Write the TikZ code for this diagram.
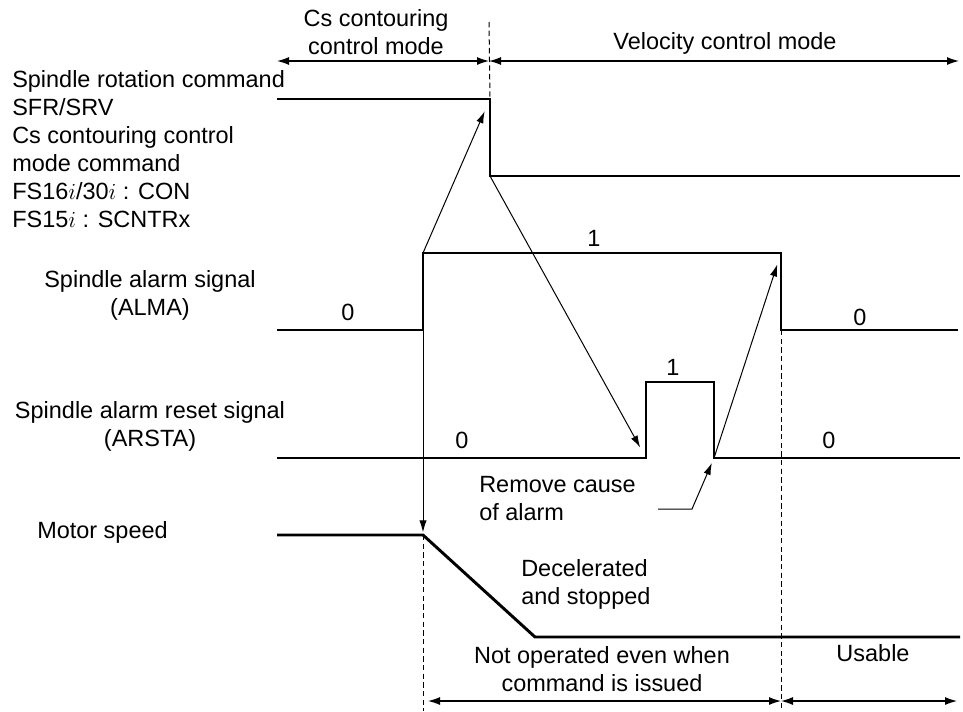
\documentclass[tikz,border=0pt]{standalone}
\usepackage{fontspec}
\setmainfont{Liberation Sans}
\usetikzlibrary{arrows.meta,positioning}
\definecolor{ink}{HTML}{000000}
\tikzset{
  sig/.style={line width=2.2pt, draw=ink, line join=miter},
  ar/.style={-{Latex[length=9pt,width=5.5pt]}, line width=0.75pt, draw=ink},
  spanar/.style={{Latex[length=9pt,width=6pt]}-{Latex[length=9pt,width=6pt]}, line width=0.9pt, draw=ink},
  guide/.style={dash pattern=on 4pt off 2.5pt, line width=0.75pt, draw=ink},
  txt/.style={font=\fontsize{17.6}{21}\selectfont, inner sep=0pt, align=center},
  lvl/.style={txt}
}

\begin{document}
\begin{tikzpicture}[x=0.75pt,y=-0.75pt]
  \useasboundingbox (0,0) rectangle (963,711);

  % signal corners
  \coordinate (sfrA) at (277,99);  \coordinate (sfrB) at (490,99);
  \coordinate (sfrC) at (490,176); \coordinate (sfrD) at (960,176);
  \coordinate (alA) at (277,330); \coordinate (alB) at (423,330);
  \coordinate (alC) at (423,253); \coordinate (alD) at (781,253);
  \coordinate (alE) at (781,330); \coordinate (alF) at (958,330);
  \coordinate (arA) at (277,458); \coordinate (arB) at (646,458);
  \coordinate (arC) at (646,382); \coordinate (arD) at (714,382);
  \coordinate (arE) at (714,458); \coordinate (arF) at (960,458);
  \coordinate (msA) at (277,535); \coordinate (msB) at (423,535);
  \coordinate (msC) at (535,637); \coordinate (msD) at (960,637);

  % mode spans
  \coordinate (mL) at (277,61); \coordinate (mM) at (489,61); \coordinate (mR) at (959,61);
  \coordinate (bL) at (428,701); \coordinate (bM) at (781,701); \coordinate (bR) at (957,701);
  \coordinate (gTop) at (489,22);
  \coordinate (gL) at (423,711); \coordinate (gR) at (781,711);
  \coordinate (rc1) at (658,509); \coordinate (rc2) at (692,509);

  \node[txt] (cslbl) at (376,32) {Cs contouring\\control mode};
  \node[txt] (vellbl) at (725,43) {Velocity control mode};
  \node[txt, align=left, anchor=north west] (sfrlbl) at (12,70)
      {Spindle rotation command\\SFR/SRV\\Cs contouring control\\mode command\\FS16$i$/30$i$ : CON\\FS15$i$ : SCNTRx};
  \node[txt] (almlbl) at (150,295) {Spindle alarm signal\\(ALMA)};
  \node[txt] (arslbl) at (150,426) {Spindle alarm reset signal\\(ARSTA)};
  \node[txt, anchor=west] (mslbl) at (37,532) {Motor speed};

  \node[lvl] (al0) at (348,312) {0};
  \node[lvl] (al1) at (594,238) {1};
  \node[lvl] (al2) at (860,317) {0};
  \node[lvl] (ar0) at (462,440) {0};
  \node[lvl] (ar1) at (673,367) {1};
  \node[lvl] (ar2) at (829,440) {0};

  \node[txt, align=left, anchor=west] (rclbl) at (479,499) {Remove cause\\of alarm};
  \node[txt, align=left, anchor=west] (declbl) at (521,584) {Decelerated\\and stopped};
  \node[txt] (nolbl) at (602,669) {Not operated even when\\command is issued};
  \node[txt] (uslbl) at (873,653) {Usable};

  \draw[sig] (sfrA) -- (sfrB) -- (sfrC) -- (sfrD);
  \draw[sig] (alA) -- (alB) -- (alC) -- (alD) -- (alE) -- (alF);
  \draw[sig] (arA) -- (arB) -- (arC) -- (arD) -- (arE) -- (arF);
  \draw[sig] (msA) -- (msB) -- (msC) -- (msD);

  \draw[guide] (gTop) -- (sfrB);
  \draw[guide] (msB) -- (gL);
  \draw[guide] (alE) -- (gR);

  \draw[spanar] (mL) -- (mM);
  \draw[spanar] (mM) -- (mR);
  \draw[spanar] (bL) -- (bM);
  \draw[spanar] (bM) -- (bR);

  \draw[ar, shorten >=10] (alC) -- (sfrB);
  \draw[ar, shorten >=9] (sfrC) -- (arB);
  \draw[ar, shorten >=9] (arE) -- (alD);
  \draw[ar, shorten >=2] (alC) -- (msB);
  \draw[ar, shorten >=4] (rc1) -- (rc2) -- (arE);
\end{tikzpicture}
\end{document}
